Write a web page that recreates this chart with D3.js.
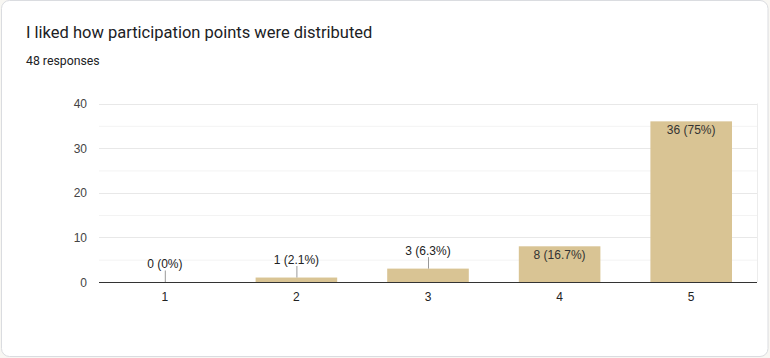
<!DOCTYPE html>
<html><head><meta charset="utf-8">
<script src="https://cdn.jsdelivr.net/npm/d3@7"></script>
<style>
html,body{margin:0;padding:0;background:#f8f7f3;}
svg{display:block;font-family:"Liberation Sans", Arial, sans-serif;}
</style></head>
<body>
<svg id="chart" width="770" height="358"></svg>
<script>
const categories = ["1","2","3","4","5"];
const counts = [0, 1, 3, 8, 36];
const percents = ["0%","2.1%","6.3%","16.7%","75%"];
const yTicks = [0,10,20,30,40];
const title = "I liked how participation points were distributed";
const subtitle = "48 responses";

const svg = d3.select("#chart");
svg.append("rect").attr("x",1.5).attr("y",0.5).attr("width",766.5).attr("height",356)
  .attr("rx",8).attr("fill","#fff").attr("stroke","#dadce0");

svg.append("text").attr("x",26).attr("y",38).attr("font-family","Roboto, sans-serif").attr("font-size",16.5).attr("fill","#202124").text(title);
svg.append("text").attr("x",26).attr("y",65).attr("font-family","Roboto, sans-serif").attr("font-size",12.3).attr("fill","#202124").text(subtitle);

const m = {left:99, right:757, top:103.5, bottom:282};
const x = d3.scaleBand().domain(categories).range([m.left,m.right]).paddingInner(0.38).paddingOuter(0.19);
const y = d3.scaleLinear().domain([0,40]).range([m.bottom,m.top]);

// gridlines
const g = svg.append("g");
g.selectAll("line.minor").data(d3.range(5,40,10)).join("line")
  .attr("x1",m.left).attr("x2",m.right).attr("y1",d=>y(d)+0.5).attr("y2",d=>y(d)+0.5)
  .attr("stroke","#f3f3f3");
g.selectAll("line.major").data(yTicks.slice(1)).join("line")
  .attr("x1",m.left).attr("x2",m.right).attr("y1",d=>Math.round(y(d))+0.5).attr("y2",d=>Math.round(y(d))+0.5)
  .attr("stroke","#e8e8e8");
g.append("line").attr("x1",m.right+0.5).attr("x2",m.right+0.5).attr("y1",m.top).attr("y2",m.bottom).attr("stroke","#ececec");

// y labels
svg.append("g").selectAll("text").data(yTicks).join("text")
  .attr("x",87).attr("y",d=>y(d)+4.5).attr("text-anchor","end").attr("font-size",12).attr("fill","#444")
  .text(d=>d);

// bars
svg.append("g").selectAll("rect").data(counts).join("rect")
  .attr("x",(d,i)=>x(categories[i])).attr("width",x.bandwidth())
  .attr("y",d=>y(d)).attr("height",d=>m.bottom-y(d)).attr("fill","#d9c494");

// baseline
svg.append("line").attr("x1",m.left).attr("x2",m.right).attr("y1",m.bottom+0.5).attr("y2",m.bottom+0.5).attr("stroke","#333");

// x labels
svg.append("g").selectAll("text").data(categories).join("text")
  .attr("x",d=>x(d)+x.bandwidth()/2).attr("y",301).attr("text-anchor","middle").attr("font-size",12).attr("fill","#222")
  .text(d=>d);

// value labels
const lab = svg.append("g");
counts.forEach((c,i)=>{
  const cx = x(categories[i])+x.bandwidth()/2;
  const top = y(c);
  const txt = `${c} (${percents[i]})`;
  if (m.bottom-top > 25) {
    lab.append("text").attr("x",cx).attr("y",top+12.5).attr("text-anchor","middle")
      .attr("font-size",12).attr("fill","#333").text(txt);
  } else {
    lab.append("line").attr("x1",cx+0.5).attr("x2",cx+0.5).attr("y1",top).attr("y2",top-11.5)
      .attr("stroke","#999");
    lab.append("text").attr("x",cx).attr("y",top-14).attr("text-anchor","middle")
      .attr("font-size",12).attr("fill","#222").text(txt);
  }
});
</script>
</body></html>
